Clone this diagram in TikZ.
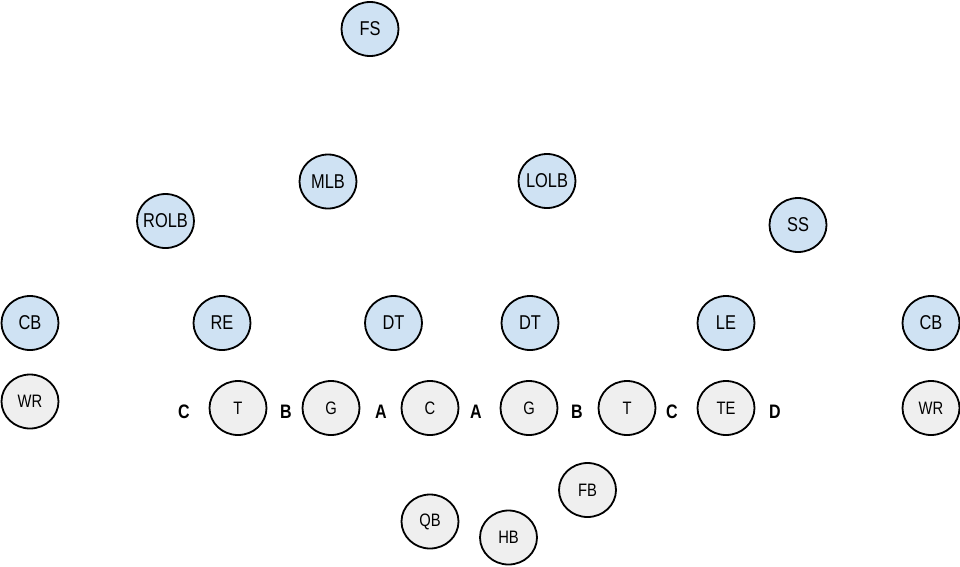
\documentclass[tikz,border=0pt]{standalone}
\usepackage{fontspec}
\setmainfont{Liberation Sans}[FakeStretch=0.82]
\usetikzlibrary{shapes.geometric}
\definecolor{defblue}{HTML}{CFE2F3}
\definecolor{offgray}{HTML}{EFEFEF}
\tikzset{
  player/.style={ellipse, draw=black, line width=1.8pt, minimum width=57pt, minimum height=54pt, inner ysep=0pt, inner xsep=-12pt},
  defense/.style={player, fill=defblue, font=\fontsize{20}{20}\selectfont},
  offense/.style={player, fill=offgray, font=\fontsize{18}{18}\selectfont},
  gap/.style={font=\fontsize{19.5}{19.5}\selectfont\bfseries, inner sep=0pt}
}
\begin{document}
\begin{tikzpicture}[x=1pt,y=-1pt]
\useasboundingbox (0,0) rectangle (960,566);
\fill[white] (0,0) rectangle (960,566);
% defense
\node[defense] (fs) at (370,29) {FS};
\node[defense] (mlb) at (328,181.5) {MLB};
\node[defense] (lolb) at (547,181) {LOLB};
\node[defense] (rolb) at (165.5,221) {ROLB};
\node[defense] (ss) at (798,225) {SS};
\node[defense] (cbl) at (30,323) {CB};
\node[defense] (re) at (222,323) {RE};
\node[defense] (dt1) at (393.5,323) {DT};
\node[defense] (dt2) at (530,323) {DT};
\node[defense] (le) at (726,323) {LE};
\node[defense] (cbr) at (931,323) {CB};
% offense
\node[offense] (wrl) at (30,401.5) {WR};
\node[offense] (tl) at (238,408) {T};
\node[offense] (gl) at (331,408) {G};
\node[offense] (c) at (430,408) {C};
\node[offense] (gr) at (529,408) {G};
\node[offense] (tr) at (627,408) {T};
\node[offense] (te) at (726,408) {TE};
\node[offense] (wrr) at (931,408) {WR};
\node[offense] (fb) at (587.5,490) {FB};
\node[offense] (qb) at (430,521.5) {QB};
\node[offense] (hb) at (508.5,537.5) {HB};
% gaps
\node[gap] (gc1) at (184,411.5) {C};
\node[gap] (gb1) at (286,411.5) {B};
\node[gap] (ga1) at (381,411.5) {A};
\node[gap] (ga2) at (476,411.5) {A};
\node[gap] (gb2) at (577,411.5) {B};
\node[gap] (gc2) at (672,411.5) {C};
\node[gap] (gd) at (775,411.5) {D};
\end{tikzpicture}
\end{document}
